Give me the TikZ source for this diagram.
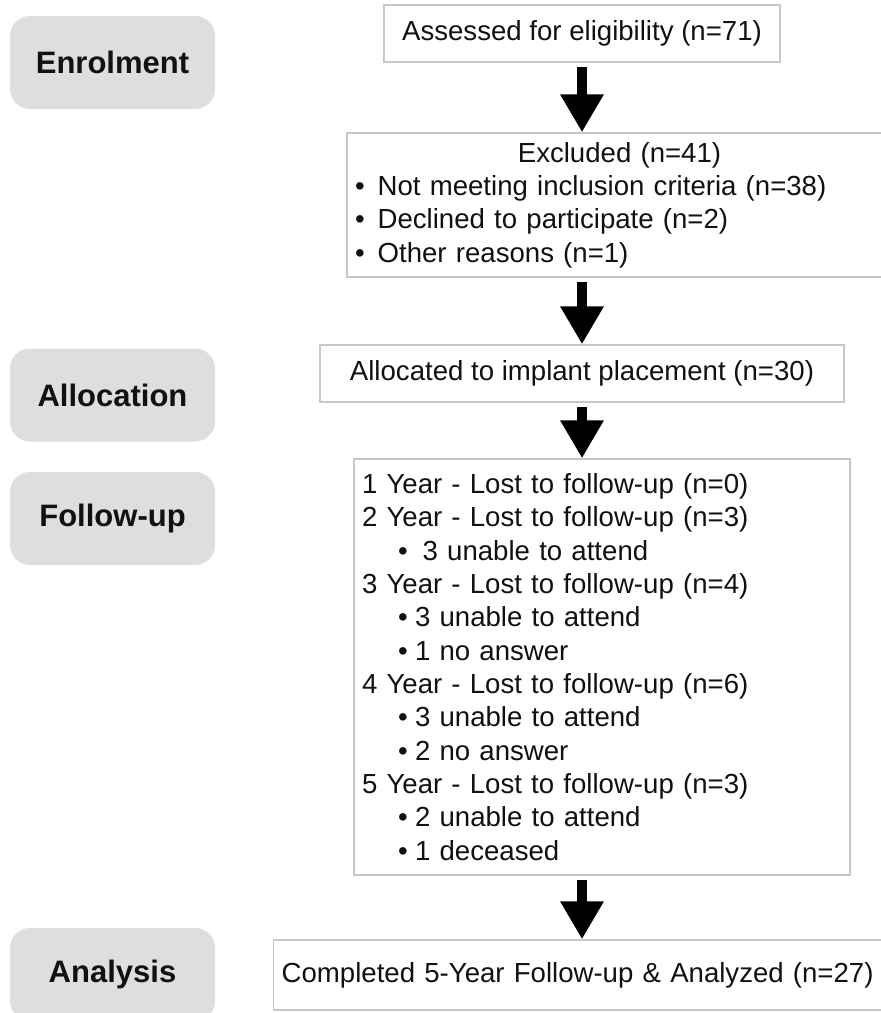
\documentclass[tikz,border=0pt]{standalone}
\usepackage{fontspec}
\setmainfont{Liberation Sans}
\usetikzlibrary{arrows.meta}
\definecolor{StageGray}{HTML}{DEDEDE}
\definecolor{BoxLine}{HTML}{C8C8C8}
\definecolor{TextInk}{HTML}{111111}

\begin{document}
\begin{tikzpicture}[x=0.5pt,y=-0.5pt,every node/.style={text=TextInk},
stage/.style={rectangle,rounded corners=10pt,fill=StageGray,minimum width=102.5pt,minimum height=46.5pt,inner sep=0pt,font=\fontsize{15.5}{18}\selectfont\bfseries},
flowbox/.style={rectangle,draw=BoxLine,fill=white,line width=0.7pt,inner sep=0pt,font=\fontsize{13.8}{16.67}\selectfont},
flowarrow/.style={line width=5.25pt,-{Triangle[width=20.5pt,length=19pt]},shorten <=2pt}]
\useasboundingbox[fill=white] (0,0) rectangle (880,1013);
% stage labels on the left
\node[stage] (sEnrol) at (112.5,62.5){Enrolment};
\node[stage] (sAlloc) at (112.5,395){Allocation};
\node[stage] (sFollow) at (112.5,518.5){Follow-up};
\node[stage] (sAnalysis) at (112.5,974.5){Analysis};
% flow boxes
\node[flowbox,minimum width=198pt,minimum height=28.5pt] (assess) at (582,33.5){Assessed for eligibility (n=71)};
\node[flowbox,minimum height=72pt,inner xsep=4pt,text width=264.5pt,align=left] (excl) at (619.5,205){\makebox[\hsize][c]{Excluded (n=41)}\\
\textbullet\hspace{6.5pt}Not meeting inclusion criteria (n=38)\\
\textbullet\hspace{6.5pt}Declined to participate (n=2)\\
\textbullet\hspace{6.5pt}Other reasons (n=1)};
\node[flowbox,minimum width=262pt,minimum height=28.5pt] (alloc) at (582,373.5){Allocated to implant placement (n=30)};
\node[flowbox,minimum height=208pt,inner xsep=4pt,text width=240pt,align=left] (fu) at (602,667){1 Year - Lost to follow-up (n=0)\\
2 Year - Lost to follow-up (n=3)\\
\hspace*{18pt}\textbullet\hspace{7.5pt}3 unable to attend\\
3 Year - Lost to follow-up (n=4)\\
\hspace*{18pt}\textbullet\hspace{3.7pt}3 unable to attend\\
\hspace*{18pt}\textbullet\hspace{3.7pt}1 no answer\\
4 Year - Lost to follow-up (n=6)\\
\hspace*{18pt}\textbullet\hspace{3.7pt}3 unable to attend\\
\hspace*{18pt}\textbullet\hspace{3.7pt}2 no answer\\
5 Year - Lost to follow-up (n=3)\\
\hspace*{18pt}\textbullet\hspace{3.7pt}2 unable to attend\\
\hspace*{18pt}\textbullet\hspace{3.7pt}1 deceased};
\node[flowbox,anchor=west,minimum height=35pt,inner xsep=4pt,text width=302pt,align=left] (done) at (273,975){Completed 5-Year Follow-up \& Analyzed (n=27)};
% arrows between the boxes
\draw[flowarrow] (assess.south) -- (assess.south |- excl.north);
\draw[flowarrow] (excl.south -| assess.south) -- (alloc.north);
\draw[flowarrow] (alloc.south) -- (alloc.south |- fu.north);
\draw[flowarrow] (fu.south -| alloc.south) -- (alloc.south |- done.north);
\end{tikzpicture}
\end{document}
